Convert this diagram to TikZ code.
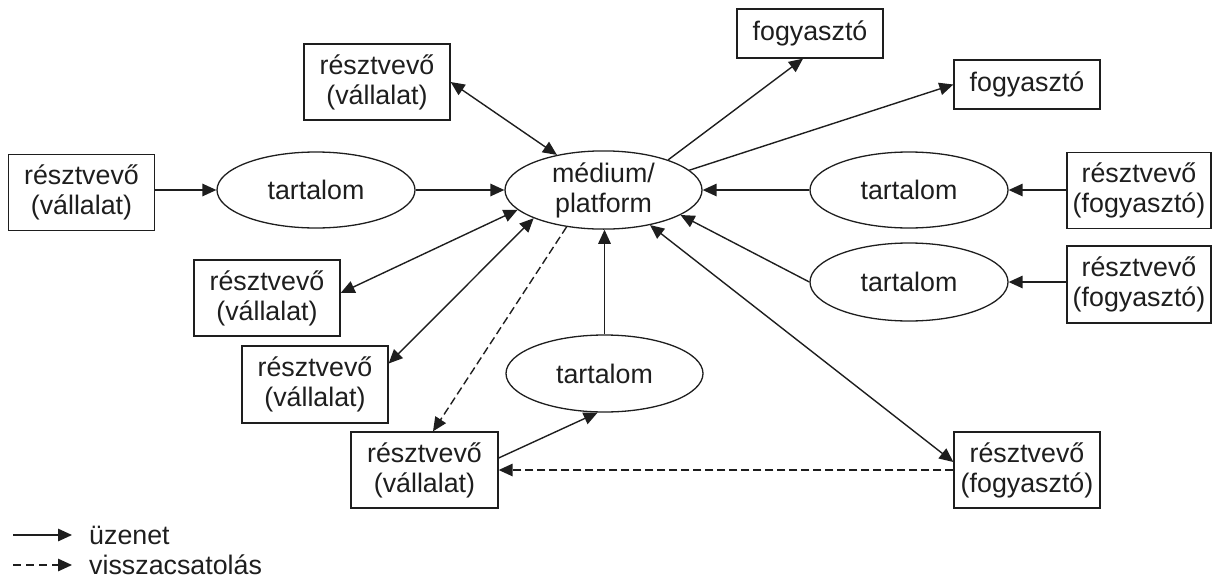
\documentclass[tikz,border=0pt]{standalone}
\usepackage{fontspec}
\setmainfont{Liberation Sans}
\usetikzlibrary{arrows.meta,shapes.geometric}
\definecolor{ink}{RGB}{30,30,30}
\tikzset{
  every node/.style={font=\fontsize{26.8}{30}\selectfont, text=ink, inner sep=0pt, align=center},
  boxnode/.style={draw=ink, line width=1.3pt, rectangle, minimum width=146pt, minimum height=76pt},
  smallbox/.style={draw=ink, line width=1.3pt, rectangle, minimum width=146pt, minimum height=49pt},
  ellnode/.style={draw=ink, line width=1.3pt, ellipse, minimum width=197pt, minimum height=76pt},
  msg/.style={draw=ink, line width=1.4pt, -{Triangle[length=14pt,width=12.5pt]}},
  msgboth/.style={draw=ink, line width=1.4pt, {Triangle[length=14pt,width=12.5pt]}-{Triangle[length=14pt,width=12.5pt]}},
  fb/.style={draw=ink, line width=1.4pt, dash pattern=on 8pt off 4pt, -{Triangle[length=14pt,width=12.5pt]}}
}
\begin{document}
\begin{tikzpicture}[x=1pt,y=-1pt]
\useasboundingbox (0,0) rectangle (1213,581);
% nodes
\node[boxnode]  (L)   at (81.5,192.5) {résztvevő\\(vállalat)};
\node[ellnode, minimum width=198pt]  (tL)  at (316,190) {tartalom};
\node[ellnode]  (M)   at (603.5,190) {médium/\\platform};
\node[boxnode]  (A1)  at (377,82) {résztvevő\\(vállalat)};
\node[smallbox] (F1)  at (810,33.5) {fogyasztó};
\node[smallbox] (F2)  at (1027,84.5) {fogyasztó};
\node[ellnode, minimum width=198pt]  (tR1) at (909,190) {tartalom};
\node[boxnode, minimum width=144pt]  (R1)  at (1139,190.5) {résztvevő\\(fogyasztó)};
\node[ellnode, minimum width=198pt, minimum height=78pt]  (tR2) at (909,282) {tartalom};
\node[boxnode, minimum width=144pt, minimum height=77pt]  (R2)  at (1139,284.5) {résztvevő\\(fogyasztó)};
\node[boxnode]  (B1)  at (267,298) {résztvevő\\(vállalat)};
\node[boxnode, minimum height=77pt]  (B2)  at (315,384.5) {résztvevő\\(vállalat)};
\node[ellnode, minimum height=77pt]  (tB)  at (604.5,373.5) {tartalom};
\node[boxnode, minimum width=147pt]  (C)   at (424.5,470) {résztvevő\\(vállalat)};
\node[boxnode]  (R3)  at (1027,470) {résztvevő\\(fogyasztó)};
% connectors
\draw[msg] (L.east |- tL.west) -- (tL.west);
\draw[msg] (tL.east) -- (M.west);
\draw[msgboth] (A1.east) -- (M.143);
\draw[msg] (M.25) -- ([xshift=-7pt]F1.south);
\draw[msg] (M.13) -- (F2.west);
\draw[msg] (R1.west |- tR1.east) -- (tR1.east);
\draw[msg] (tR1.west) -- (M.east);
\draw[msg] (R2.west |- tR2.east) -- (tR2.east);
\draw[msg] (tR2.west) -- (M.-18);
\draw[msgboth] ([yshift=8pt]R3.west) -- (M.-37);
\draw[msgboth] ([yshift=5pt]B1.east) -- (M.-167);
\draw[msgboth] ([yshift=21pt]B2.east) -- (M.-158);
\draw[msg] (tB.north) -- (tB.north |- M.south);
\draw[msg] ([yshift=12pt]C.east) -- (tB.-100);
\draw[fb] (M.-135) -- ([xshift=8.5pt]C.north);
\draw[fb] (R3.west) -- (C.east);
% legend
\coordinate (l1s) at (13,535);
\coordinate (l1e) at (72,535);
\coordinate (l2s) at (13,565);
\coordinate (l2e) at (72,565);
\node[anchor=west] (t1) at (89,535) {üzenet};
\node[anchor=west] (t2) at (89,565) {visszacsatolás};
\draw[msg] (l1s) -- (l1e);
\draw[fb, dash pattern=on 8pt off 5pt] (l2s) -- (l2e);
\end{tikzpicture}
\end{document}
